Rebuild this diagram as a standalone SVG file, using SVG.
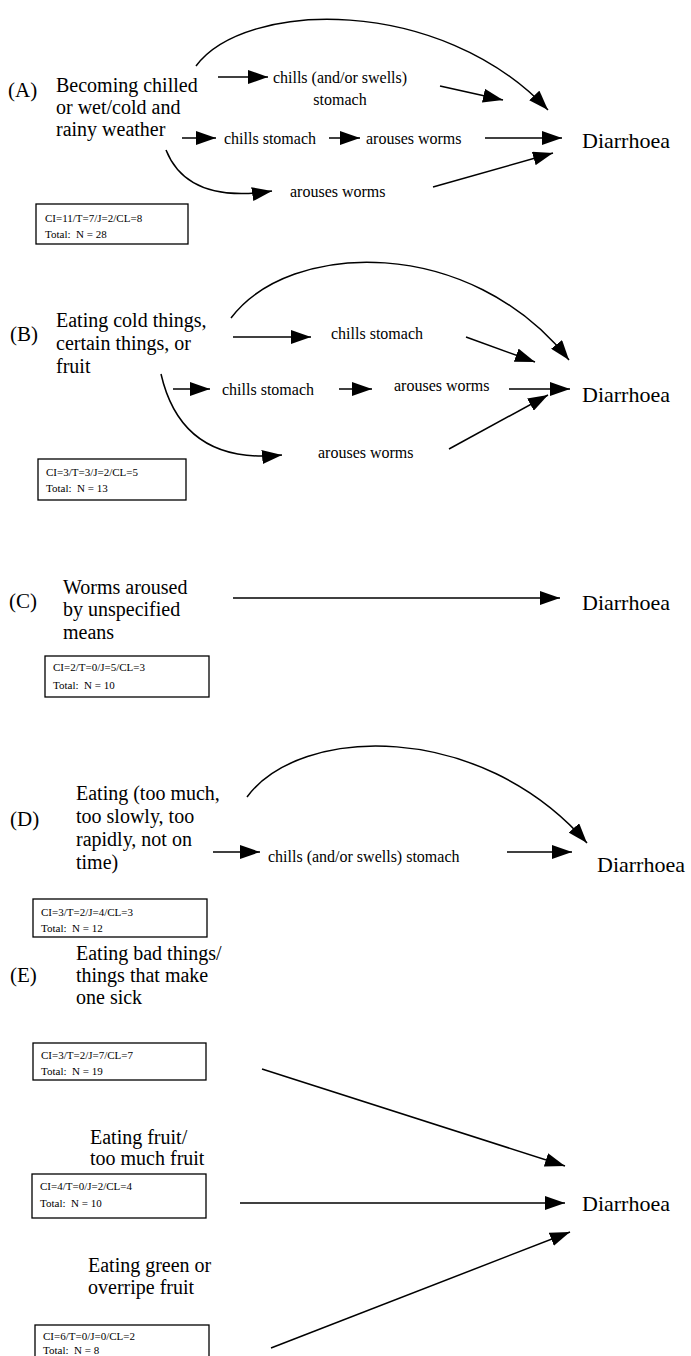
<svg xmlns="http://www.w3.org/2000/svg" width="691" height="1356" viewBox="0 0 691 1356" font-family="'Liberation Serif', 'Times New Roman', serif">
<style>
text{font-family:'Liberation Serif','Times New Roman',serif;fill:#000}
.main{font-size:20px}
.lab{font-size:16px}
.dia{font-size:22px}
.let{font-size:21px}
.box{font-size:11px}
.bx{fill:#fff;stroke:#000;stroke-width:1.3}
.c{fill:none;stroke:#000;stroke-width:1.5;marker-end:url(#ah)}
</style>
<defs>
<marker id="ah" markerUnits="userSpaceOnUse" markerWidth="22" markerHeight="14" refX="20" refY="7" orient="auto">
<path d="M0,0 L20,7 L0,14 Z" fill="#000"/>
</marker>
</defs>
<rect width="691" height="1356" fill="#fff"/>

<!-- Section A -->
<g id="A-cause">
<text class="let" x="8" y="97">(A)</text>
<text class="main" x="56" y="92">Becoming chilled</text>
<text class="main" x="56" y="114">or wet/cold and</text>
<text class="main" x="56" y="136">rainy weather</text>
</g>
<g id="A-chills-swells"><text class="lab" x="340" y="83" text-anchor="middle">chills (and/or swells)</text><text class="lab" x="340" y="105" text-anchor="middle">stomach</text></g>
<g id="A-chills"><text class="lab" x="224" y="144">chills stomach</text></g>
<g id="A-arouses1"><text class="lab" x="366" y="144">arouses worms</text></g>
<g id="A-arouses2"><text class="lab" x="290" y="197">arouses worms</text></g>
<g id="A-diarrhoea"><text class="dia" x="582" y="148">Diarrhoea</text></g>
<g id="A-box"><rect class="bx" x="36" y="204" width="152" height="40"/><text class="box" x="45" y="222">CI=11/T=7/J=2/CL=8</text><text class="box" x="45" y="238">Total:&#160;&#160;N = 28</text></g>

<!-- Section B -->
<g id="B-cause">
<text class="let" x="10" y="341">(B)</text>
<text class="main" x="56" y="327">Eating cold things,</text>
<text class="main" x="56" y="350">certain things, or</text>
<text class="main" x="56" y="373">fruit</text>
</g>
<g id="B-chills1"><text class="lab" x="331" y="339">chills stomach</text></g>
<g id="B-chills2"><text class="lab" x="222" y="395">chills stomach</text></g>
<g id="B-arouses1"><text class="lab" x="394" y="391">arouses worms</text></g>
<g id="B-arouses2"><text class="lab" x="318" y="458">arouses worms</text></g>
<g id="B-diarrhoea"><text class="dia" x="582" y="402">Diarrhoea</text></g>
<g id="B-box"><rect class="bx" x="38" y="459" width="148" height="41"/><text class="box" x="46" y="476">CI=3/T=3/J=2/CL=5</text><text class="box" x="46" y="492">Total:&#160;&#160;N = 13</text></g>

<!-- Section C -->
<g id="C-cause">
<text class="let" x="9" y="608">(C)</text>
<text class="main" x="63" y="594">Worms aroused</text>
<text class="main" x="63" y="616">by unspecified</text>
<text class="main" x="63" y="639">means</text>
</g>
<g id="C-diarrhoea"><text class="dia" x="582" y="610">Diarrhoea</text></g>
<g id="C-box"><rect class="bx" x="45" y="656" width="164" height="41"/><text class="box" x="53" y="671">CI=2/T=0/J=5/CL=3</text><text class="box" x="53" y="689">Total:&#160;&#160;N = 10</text></g>

<!-- Section D -->
<g id="D-cause">
<text class="let" x="10" y="826">(D)</text>
<text class="main" x="76" y="800">Eating (too much,</text>
<text class="main" x="76" y="823">too slowly, too</text>
<text class="main" x="76" y="846">rapidly, not on</text>
<text class="main" x="76" y="869">time)</text>
</g>
<g id="D-chills"><text class="lab" x="268" y="862">chills (and/or swells) stomach</text></g>
<g id="D-diarrhoea"><text class="dia" x="597" y="872">Diarrhoea</text></g>
<g id="D-box"><rect class="bx" x="33" y="899" width="174" height="38"/><text class="box" x="41" y="916">CI=3/T=2/J=4/CL=3</text><text class="box" x="41" y="932">Total:&#160;&#160;N = 12</text></g>

<!-- Section E -->
<g id="E-cause1">
<text class="let" x="10" y="982">(E)</text>
<text class="main" x="76" y="960">Eating bad things/</text>
<text class="main" x="76" y="982">things that make</text>
<text class="main" x="76" y="1004">one sick</text>
</g>
<g id="E-box1"><rect class="bx" x="33" y="1043" width="173" height="37"/><text class="box" x="41" y="1059">CI=3/T=2/J=7/CL=7</text><text class="box" x="41" y="1075">Total:&#160;&#160;N = 19</text></g>
<g id="E-cause2">
<text class="main" x="90" y="1144">Eating fruit/</text>
<text class="main" x="90" y="1165">too much fruit</text>
</g>
<g id="E-box2"><rect class="bx" x="32" y="1174" width="174" height="44"/><text class="box" x="40" y="1190">CI=4/T=0/J=2/CL=4</text><text class="box" x="40" y="1207">Total:&#160;&#160;N = 10</text></g>
<g id="E-cause3">
<text class="main" x="88" y="1272">Eating green or</text>
<text class="main" x="88" y="1294">overripe fruit</text>
</g>
<g id="E-box3"><rect class="bx" x="35" y="1325" width="174" height="42"/><text class="box" x="43" y="1340">CI=6/T=0/J=0/CL=2</text><text class="box" x="43" y="1354">Total:&#160;&#160;N = 8</text></g>
<g id="E-diarrhoea"><text class="dia" x="582" y="1211">Diarrhoea</text></g>

<!-- Connectors -->
<g id="connectors">
<path class="c" d="M196,66 C245,0 440,-5 548,110"/>
<path class="c" d="M218,77 L268,77"/>
<path class="c" d="M440,86 L503,100"/>
<path class="c" d="M182,138 L216,138"/>
<path class="c" d="M329,138 L360,138"/>
<path class="c" d="M485,138 L562,138"/>
<path class="c" d="M166,150 C180,185 215,200 272,191"/>
<path class="c" d="M433,187 L553,153"/>

<path class="c" d="M231,318 C290,240 470,235 569,360"/>
<path class="c" d="M233,337 L311,337"/>
<path class="c" d="M466,337 L535,362"/>
<path class="c" d="M173,389 L210,389"/>
<path class="c" d="M339,389 L372,389"/>
<path class="c" d="M509,389 L570,389"/>
<path class="c" d="M161,374 C175,435 215,462 282,455"/>
<path class="c" d="M449,449 L548,395"/>

<path class="c" d="M233,598 L560,598"/>

<path class="c" d="M247,797 C300,725 480,720 587,843"/>
<path class="c" d="M213,852 L260,852"/>
<path class="c" d="M507,852 L572,852"/>

<path class="c" d="M262,1069 L565,1166"/>
<path class="c" d="M240,1203 L565,1203"/>
<path class="c" d="M271,1348 L570,1232"/>
</g>
</svg>
